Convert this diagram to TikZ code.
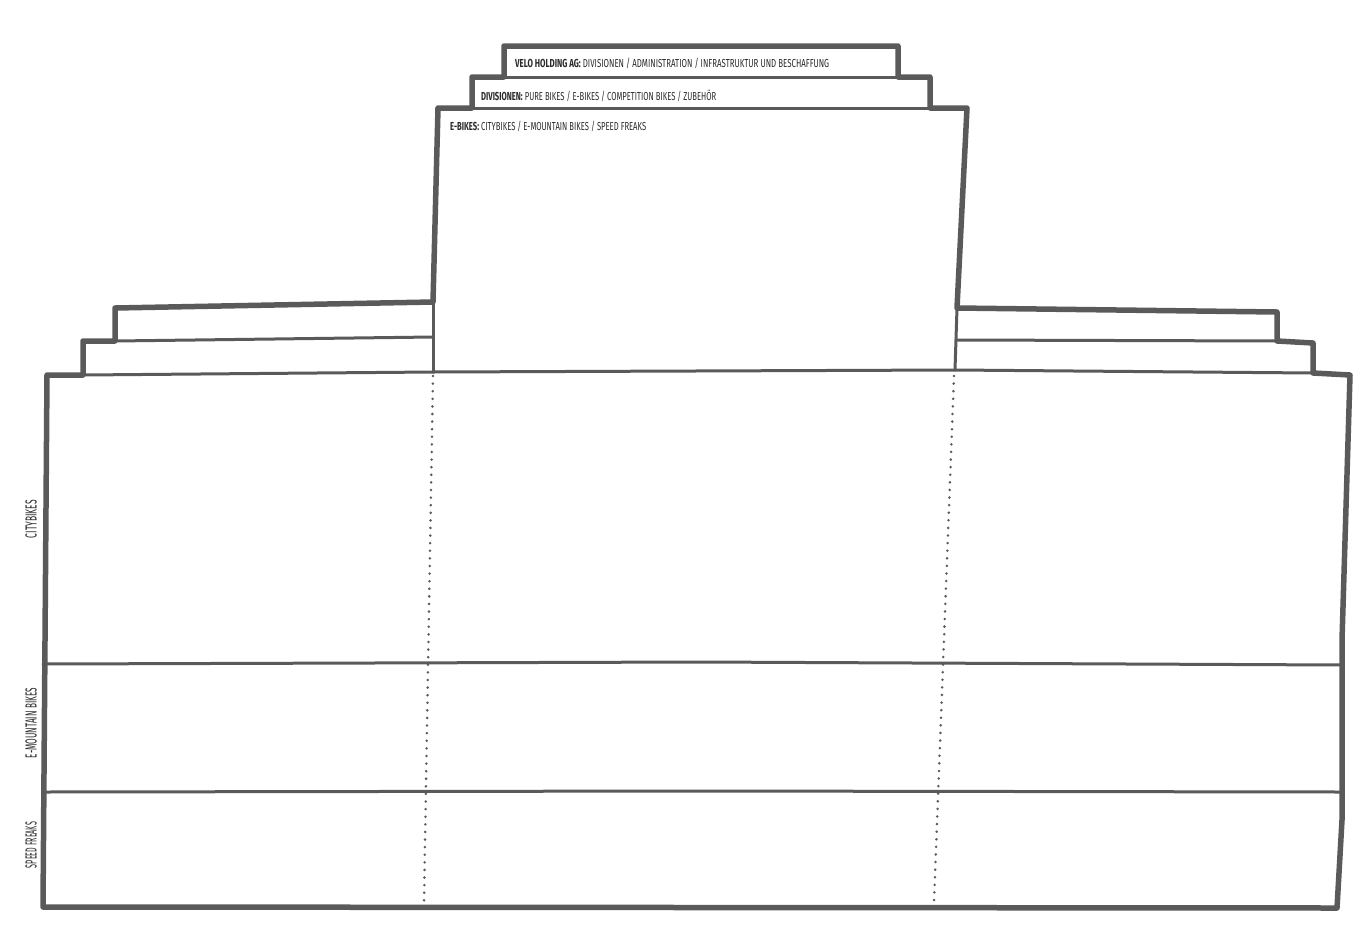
\documentclass[tikz,border=0pt]{standalone}
\usepackage{fontspec}
\setmainfont{Fira Sans}
\usepackage{graphicx}
\definecolor{ink}{HTML}{5A5A5A}
\definecolor{inktxt}{HTML}{2A2A2A}
\tikzset{
  thickline/.style={draw=ink, line width=5.5pt, line join=round, line cap=round},
  thinline/.style={draw=ink, line width=3pt, line join=round, line cap=round},
  dotline/.style={draw=ink, line width=2.8pt, line cap=round, dash pattern=on 0pt off 7.6pt},
  toptext/.style={anchor=base west, inner sep=0pt, text=inktxt},
  sidetext/.style={anchor=center, inner sep=0pt, rotate=90, text=inktxt}
}
\newcommand{\toplbl}[3]{\resizebox{#1}{\height}{\fontsize{11.6}{12}\selectfont\textbf{#2} #3}}
\newcommand{\sidelbl}[2]{\resizebox{#1}{\height}{\fontsize{16}{17}\selectfont #2}}
\begin{document}
\begin{tikzpicture}[x=1pt, y=-1pt]
\useasboundingbox (0,0) rectangle (1369,946);
% corner coordinates
\coordinate (bl) at (43,907);
\coordinate (tl) at (47,375);
\coordinate (ls1) at (83,375);
\coordinate (ls2) at (83,341);
\coordinate (ls3) at (115,341);
\coordinate (ls4) at (115,308);
\coordinate (cl0) at (433,302);
\coordinate (cl1) at (438,108);
\coordinate (dl0) at (472,108);
\coordinate (dl1) at (472,77);
\coordinate (vl0) at (504,77);
\coordinate (vl1) at (504,46);
\coordinate (vr1) at (898,46);
\coordinate (vr0) at (898,77);
\coordinate (dr1) at (930,77);
\coordinate (dr0) at (930,108);
\coordinate (cr1) at (967,108);
\coordinate (cr0) at (957,308);
\coordinate (rs4) at (1277,312);
\coordinate (rs3) at (1277,341);
\coordinate (rs2) at (1313,343);
\coordinate (rs1) at (1313,373);
\coordinate (tr) at (1350,375);
\coordinate (rm1) at (1342,640);
\coordinate (rm2) at (1342,820);
\coordinate (br) at (1337,908);
% thin inner lines
\draw[thinline] (vl0) -- (vr0);
\draw[thinline] (dl0) -- (dr0);
\draw[thinline] (ls3) -- (433,337);
\draw[thinline] (cr0 |- rs3) ++(0,-1) -- (rs3);
\draw[thinline] (ls1) -- (433,372) -- (955,370) -- (rs1);
\draw[thinline] (cl0) -- (433,372);
\draw[thinline] (cr0) -- (955,370);
\coordinate (r1l) at (43,664);
\coordinate (r1r) at (1342,665);
\coordinate (r2l) at (43,792);
\coordinate (r2r) at (1342,792);
\draw[thinline] (r1l) -- (700,662) -- (r1r);
\draw[thinline] (r2l) -- (700,791) -- (r2r);
% dotted dividers
\coordinate (d1t) at (433,376);
\coordinate (d1b) at (424,902);
\coordinate (d2t) at (954,376);
\coordinate (d2b) at (934,902);
\draw[dotline] (d1t) -- (d1b);
\draw[dotline] (d2t) -- (d2b);
% thick outline
\draw[thickline] (bl) -- (tl) -- (ls1) -- (ls2) -- (ls3) -- (ls4) -- (cl0) -- (cl1) -- (dl0) -- (dl1) -- (vl0) -- (vl1) -- (vr1) -- (vr0) -- (dr1) -- (dr0) -- (cr1) -- (cr0) -- (rs4) -- (rs3) -- (rs2) -- (rs1) -- (tr) -- (rm1) -- (rm2) -- (br) -- cycle;
% texts
\node[toptext] (t1) at (515,67) {\toplbl{314pt}{VELO HOLDING AG:}{DIVISIONEN / ADMINISTRATION / INFRASTRUKTUR UND BESCHAFFUNG}};
\node[toptext] (t2) at (481,100) {\toplbl{235pt}{DIVISIONEN:}{PURE BIKES / E-BIKES / COMPETITION BIKES / ZUBEHÖR}};
\node[toptext] (t3) at (450,130) {\toplbl{196pt}{E-BIKES:}{CITYBIKES / E-MOUNTAIN BIKES / SPEED FREAKS}};
\node[sidetext] (s1) at (31,519) {\sidelbl{38pt}{CITYBIKES}};
\node[sidetext] (s2) at (31,723) {\sidelbl{70pt}{E-MOUNTAIN BIKES}};
\node[sidetext] (s3) at (31,845) {\sidelbl{46pt}{SPEED FREAKS}};
\end{tikzpicture}
\end{document}
